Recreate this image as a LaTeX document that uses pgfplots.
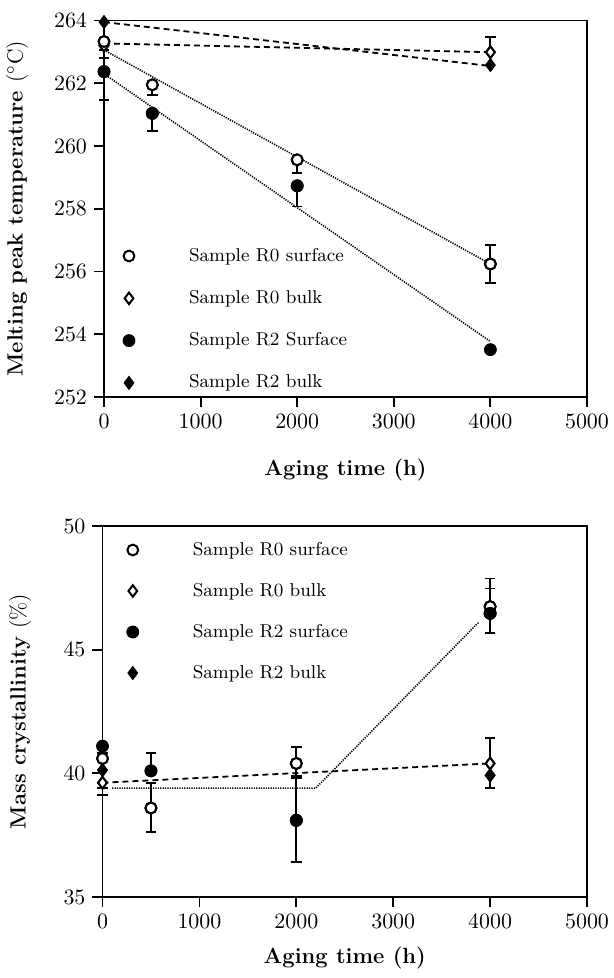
\documentclass[border=0pt]{standalone}
\usepackage{pgfplots}
\pgfplotsset{compat=1.18}
\begin{document}
\begin{tikzpicture}
\useasboundingbox (0,0) rectangle (307pt,-489pt);
\pgfplotsset{
  myaxis/.style={
    scale only axis, clip=false,
    xmin=0, xmax=5000,
    xtick={0,1000,2000,3000,4000,5000},
    tick align=outside, tick pos=left,
    major tick length=5pt,
    axis line style={line width=0.9pt},
    every tick/.style={black, line width=0.9pt},
    tick label style={font=\fontsize{11}{13}\selectfont},
    label style={font=\fontsize{11}{13}\selectfont\bfseries},
    xticklabel style={/pgf/number format/.cd,1000 sep={}},
    legend style={draw=none, fill=none, inner sep=0pt, outer sep=0pt, column sep=0pt,
      font=\fontsize{9.3}{10}\selectfont,
      nodes={inner sep=0pt, text height=7pt, text depth=2pt}},
    legend cell align=left,
  },
  oc/.style={black, only marks, mark=*, mark size=2.7pt, mark options={solid, fill=white, draw=black, line width=1pt}},
  od/.style={black, only marks, mark=diamond*, mark size=2.9pt, mark options={solid, fill=white, draw=black, line width=1pt}},
  fc/.style={black, only marks, mark=*, mark size=3pt, mark options={solid, fill=black, draw=black}},
  fd/.style={black, only marks, mark=diamond*, mark size=3.3pt, mark options={solid, fill=black, draw=black}},
  eb/.style={forget plot, error bars/.cd, y explicit, y dir=#1,
    error bar style={line width=0.9pt, solid, black},
    error mark options={rotate=90, mark size=2.6pt, line width=0.9pt, black}},
  dotfit/.style={forget plot, black, line width=0.8pt, dash pattern=on 0.6pt off 0.6pt, mark=none},
  dashfit/.style={forget plot, black, line width=0.9pt, dash pattern=on 3pt off 2pt, mark=none},
}
% ---------------- top panel ----------------
\begin{axis}[myaxis,
  at={(52pt,-198.5pt)}, anchor=south west,
  width=241.5pt, height=188.25pt,
  ymin=252, ymax=264, ytick={252,254,256,258,260,262,264},
  xlabel={Aging time (h)},
  ylabel={Melting peak temperature \textmd{($^{\circ}$C)}},
  xlabel style={at={(axis description cs:0.5,-0.194)}, anchor=center},
  ylabel style={at={(axis description cs:-0.180,0.5)}, anchor=center},
  legend style={at={(axis description cs:0,1)}, anchor=north west, xshift=8.5pt, yshift=-113.25pt, row sep=12.15pt},
  legend image code/.code={\path[draw=none,fill=none] (-4pt,-4pt) rectangle (30pt,4pt); \draw[#1] plot coordinates {(0pt,0pt)};},
]
% fit lines
\addplot[dotfit] coordinates {(0,263.06) (4000,256.24)};
\addplot[dotfit] coordinates {(0,262.30) (4000,253.77)};
\addplot[dashfit] coordinates {(0,263.27) (4000,262.99)};
\addplot[dashfit] coordinates {(0,263.95) (4000,262.55)};
% error bars
\addplot[oc, eb=minus] coordinates {(0,263.33) +- (0,0.53) (500,261.95) +- (0,0.32) (2000,259.56) +- (0,0.42) (4000,256.24) +- (0,0.60)};
\addplot[oc, eb=plus] coordinates {(4000,256.24) +- (0,0.61)};
\addplot[od, eb=minus] coordinates {(0,263.20) +- (0,0.15)};
\addplot[od, eb=plus] coordinates {(4000,262.99) +- (0,0.49)};
\addplot[fc, eb=minus] coordinates {(0,262.37) +- (0,0.90) (500,261.04) +- (0,0.56) (2000,258.73) +- (0,0.66)};
% markers
\addplot[od] coordinates {(0,263.20) (4000,262.99)};
\addplot[fd] coordinates {(0,263.95) (4000,262.58)};
\addplot[oc] coordinates {(0,263.33) (500,261.95) (2000,259.56) (4000,256.24)};
\addplot[fc] coordinates {(0,262.37) (500,261.04) (2000,258.73) (4000,253.51)};
\legend{}
\end{axis}
% legend of the top panel (entries in reference order)
\begin{axis}[myaxis,
  at={(52pt,-198.5pt)}, anchor=south west,
  width=241.5pt, height=188.25pt,
  ymin=252, ymax=264, hide axis,
  legend style={at={(axis description cs:0,1)}, anchor=north west, xshift=8.5pt, yshift=-113.25pt, row sep=12.15pt},
  legend image code/.code={\path[draw=none,fill=none] (-4pt,-4pt) rectangle (30pt,4pt); \draw[#1] plot coordinates {(0pt,0pt)};},
]
\addplot[oc] coordinates {(-9999,0)};
\addplot[od] coordinates {(-9999,0)};
\addplot[fc] coordinates {(-9999,0)};
\addplot[fd] coordinates {(-9999,0)};
\legend{Sample R0 surface, Sample R0 bulk, Sample R2 Surface, Sample R2 bulk}
\end{axis}
% ---------------- bottom panel ----------------
\begin{axis}[myaxis,
  at={(51.25pt,-448.5pt)}, anchor=south west,
  width=242.25pt, height=185.5pt,
  ymin=35, ymax=50, ytick={35,40,45,50},
  xlabel={Aging time (h)},
  ylabel={Mass crystallinity \textmd{(\%)}},
  xlabel style={at={(axis description cs:0.5,-0.164)}, anchor=center},
  ylabel style={at={(axis description cs:-0.170,0.5)}, anchor=center},
  legend style={at={(axis description cs:0,1)}, anchor=north west, xshift=11.15pt, yshift=-7.5pt, row sep=11.5pt},
  legend image code/.code={\path[draw=none,fill=none] (-4pt,-4pt) rectangle (30pt,4pt); \draw[#1] plot coordinates {(0pt,0pt)};},
]
\addplot[dashfit] coordinates {(0,39.62) (4000,40.40)};
\addplot[dotfit] coordinates {(100,39.40) (2200,39.40) (3880,46.10)};
% error bars
\addplot[oc, eb=plus] coordinates {(0,40.60) +- (0,0.23) (500,38.60) +- (0,1.00) (2000,40.40) +- (0,0.65) (4000,46.74) +- (0,1.14)};
\addplot[oc, eb=minus] coordinates {(500,38.60) +- (0,0.98) (2000,40.40) +- (0,0.60) (4000,46.74) +- (0,1.05)};
\addplot[od, eb=minus] coordinates {(0,39.62) +- (0,0.50)};
\addplot[od, eb=plus] coordinates {(4000,40.40) +- (0,1.04)};
\addplot[fc, eb=plus] coordinates {(500,40.10) +- (0,0.73) (2000,38.10) +- (0,1.80) (4000,46.47) +- (0,1.00)};
\addplot[fc, eb=minus] coordinates {(2000,38.10) +- (0,1.70) (4000,46.47) +- (0,0.78)};
\addplot[fd, eb=minus] coordinates {(0,40.13) +- (0,0.73) (4000,39.92) +- (0,0.52)};
% markers
\addplot[oc] coordinates {(0,40.60) (500,38.60) (2000,40.40) (4000,46.74)};
\addplot[od] coordinates {(0,39.62) (4000,40.40)};
\addplot[fc] coordinates {(0,41.10) (500,40.10) (2000,38.10) (4000,46.47)};
\addplot[fd] coordinates {(0,40.13) (4000,39.92)};
\legend{Sample R0 surface, Sample R0 bulk, Sample R2 surface, Sample R2 bulk}
\end{axis}
\end{tikzpicture}
\end{document}
